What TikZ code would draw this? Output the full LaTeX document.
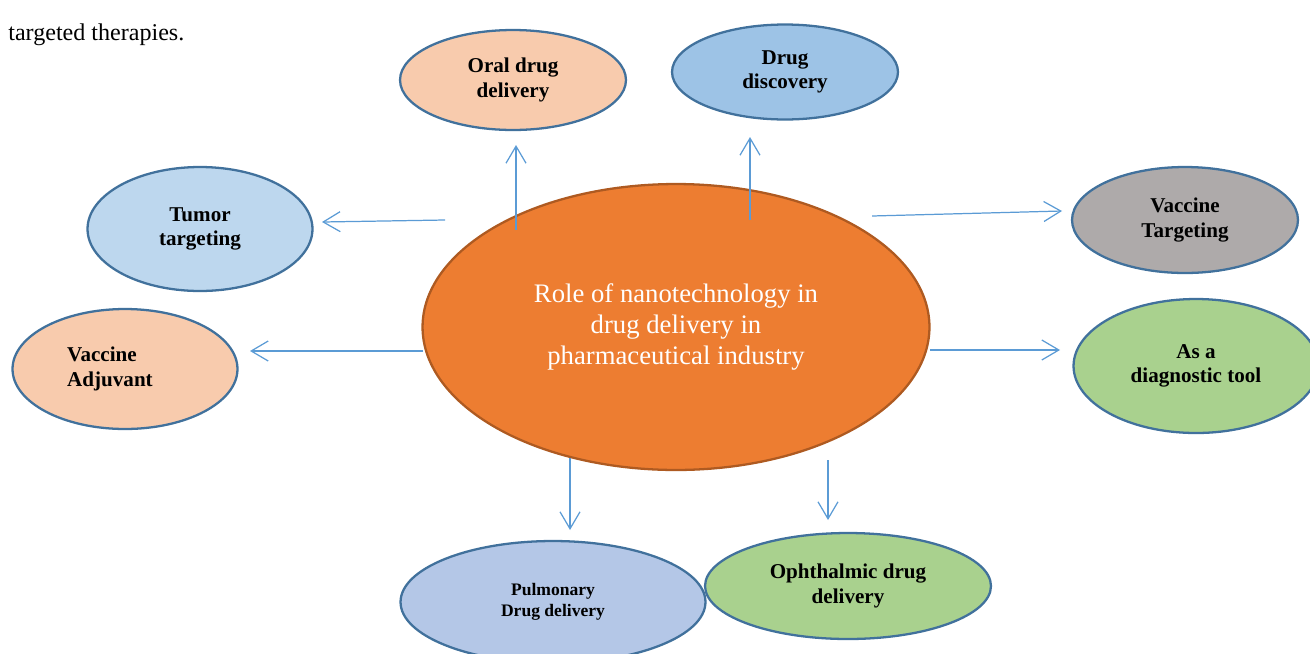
\documentclass[tikz,border=0pt]{standalone}
\usepackage{fontspec}
\setmainfont{Liberation Serif}
\usetikzlibrary{arrows.meta,shapes.geometric}
\definecolor{colrim}{HTML}{41719C}
\definecolor{collink}{HTML}{5B9BD5}
\definecolor{colcore}{HTML}{ED7D31}
\definecolor{colcorerim}{HTML}{AE5A21}
\definecolor{colpeach}{HTML}{F8CBAD}
\definecolor{colsky}{HTML}{9DC3E6}
\definecolor{colpale}{HTML}{BDD7EE}
\definecolor{colgrey}{HTML}{AEAAAA}
\definecolor{colgreen}{HTML}{A9D18E}
\definecolor{collav}{HTML}{B4C7E7}

\begin{document}
\begin{tikzpicture}[
  x=0.02cm, y=-0.02cm,
  bubble/.style={ellipse,draw=colrim,line width=1.3pt,inner sep=0pt,align=center,
    font=\bfseries\fontsize{12}{14}\selectfont},
  link/.style={draw=collink,line width=0.7pt,-{Straight Barb[length=3.4mm,width=4mm]}},
]
  \useasboundingbox (0,0) rectangle (1310,653);
  \clip (0,0) rectangle (1310,653);
  % ---- running text ----
  \node[anchor=base west,inner sep=0pt,font=\fontsize{13.7}{16}\selectfont] (note) at (8,40) {targeted therapies.};
  % ---- central ellipse ----
  \node[ellipse,draw=colcorerim,line width=1.3pt,fill=colcore,text=white,align=center,
    minimum width=10.14cm,minimum height=5.72cm,inner sep=0pt,
    font=\fontsize{15.2}{17.6}\selectfont] (core) at (676,327)
    {Role of nanotechnology in\\drug delivery in\\pharmaceutical industry};
  % ---- outer ellipses ----
  \node[bubble,fill=colpeach,minimum width=4.52cm,minimum height=2.0cm] (oral) at (513,80) {Oral drug\\delivery};
  \node[bubble,fill=colsky,minimum width=4.52cm,minimum height=1.9cm] (discov) at (785,72) {Drug\\discovery};
  \node[bubble,fill=colpale,minimum width=4.5cm,minimum height=2.48cm] (tumor) at (200,229) {Tumor\\targeting};
  \node[bubble,fill=colpeach,minimum width=4.5cm,minimum height=2.4cm,align=left] (adjuv) at (125,369)
    {Vaccine\\Adjuvant\hspace*{0.6cm}};
  \node[bubble,fill=colgrey,minimum width=4.52cm,minimum height=2.12cm] (vtarget) at (1185,220) {Vaccine\\Targeting};
  \node[bubble,fill=colgreen,minimum width=4.9cm,minimum height=2.68cm] (diagn) at (1196,366) {As a\\diagnostic tool};
  \node[bubble,fill=collav,minimum width=6.1cm,minimum height=2.44cm,
    font=\bfseries\fontsize{10}{11.6}\selectfont] (pulmo) at (553,602) {Pulmonary\\Drug delivery};
  \node[bubble,fill=colgreen,minimum width=5.72cm,minimum height=2.12cm] (ophth) at (848,586) {Ophthalmic drug\\delivery};
  % ---- arrows ----
  \coordinate (s1) at (516,230); \coordinate (e1) at (516,145);
  \coordinate (s2) at (750,220); \coordinate (e2) at (750,137);
  \coordinate (s3) at (445,220); \coordinate (e3) at (322,222);
  \coordinate (s4) at (423,351); \coordinate (e4) at (250,351);
  \coordinate (s5) at (872,216); \coordinate (e5) at (1062,211);
  \coordinate (s6) at (930,350); \coordinate (e6) at (1060,350);
  \coordinate (s7) at (570,458); \coordinate (e7) at (570,530);
  \coordinate (s8) at (828,460); \coordinate (e8) at (828,520);
  \draw[link] (s1) -- (e1);
  \draw[link] (s2) -- (e2);
  \draw[link] (s3) -- (e3);
  \draw[link] (s4) -- (e4);
  \draw[link] (s5) -- (e5);
  \draw[link] (s6) -- (e6);
  \draw[link] (s7) -- (e7);
  \draw[link] (s8) -- (e8);
\end{tikzpicture}
\end{document}
